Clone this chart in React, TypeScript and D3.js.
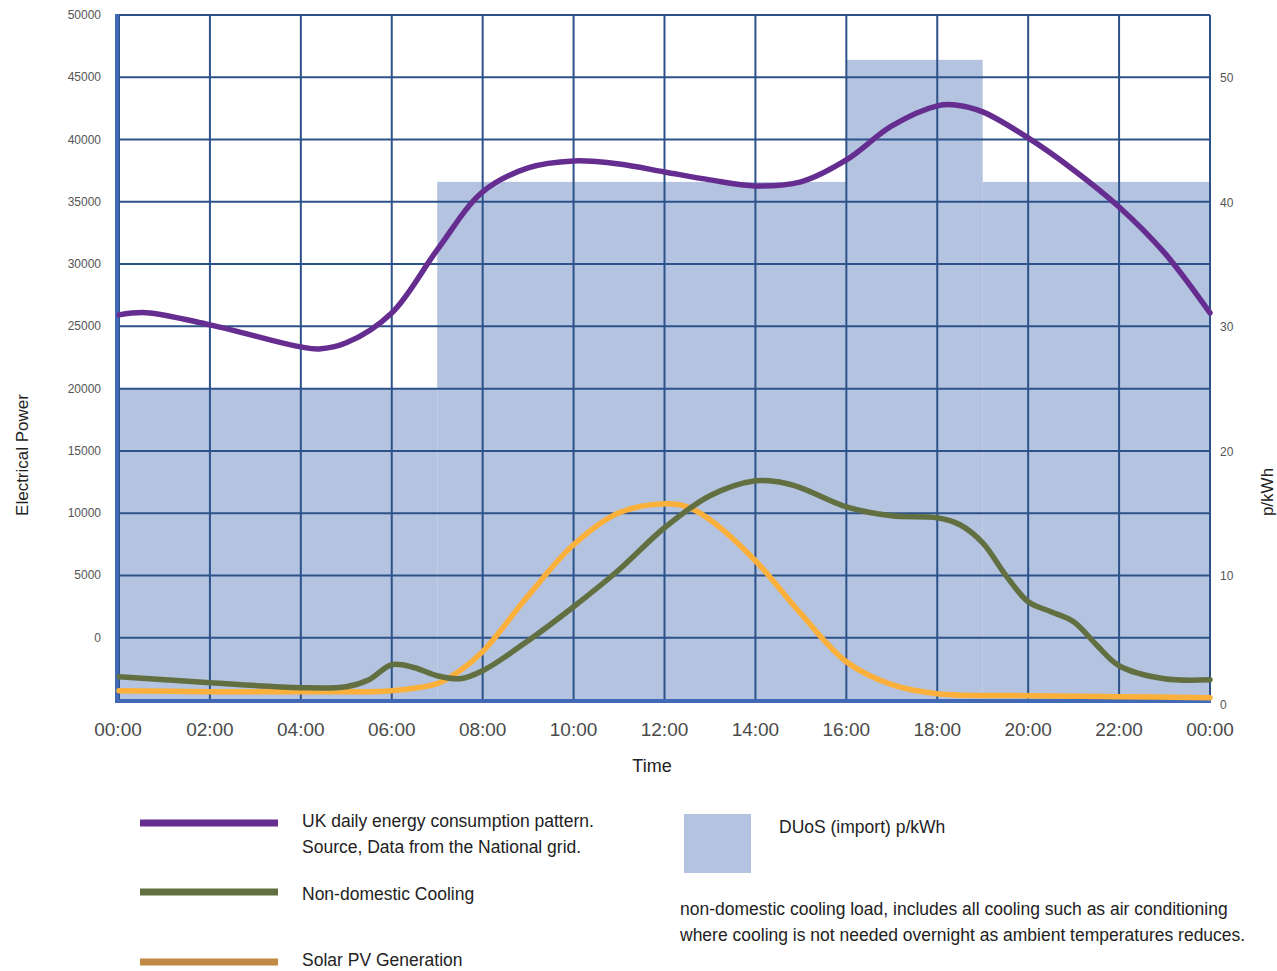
import React from "react";
import * as d3 from "d3";

const hours = [0, 2, 4, 6, 8, 10, 12, 14, 16, 18, 20, 22, 24];
const hourLabels = ["00:00", "02:00", "04:00", "06:00", "08:00", "10:00", "12:00", "14:00", "16:00", "18:00", "20:00", "22:00", "00:00"];
const leftTicks = [0, 5000, 10000, 15000, 20000, 25000, 30000, 35000, 40000, 45000, 50000];
const rightTicks = [0, 10, 20, 30, 40, 50];

// DUoS tariff bands: [start hour, end hour, p/kWh]
const duosStart = [0, 7, 16, 19];
const duosEnd = [7, 16, 19, 24];
const duosValue = [25, 41.6, 51.4, 41.6];

// UK daily consumption
const ukHours = [0, 0.6, 2, 4, 4.4, 5, 6, 7, 8, 9, 10, 11, 12, 13, 14, 15, 16, 17, 18, 18.4, 19, 20, 21, 22, 23, 24];
const ukValues = [25920, 26100, 25120, 23350, 23190, 23680, 26080, 31140, 35800, 37720, 38280, 38040, 37400, 36760, 36280, 36600, 38360, 41090, 42700, 42780, 42220, 40130, 37560, 34590, 30900, 26080];

// Non-domestic cooling
const coolHours = [0, 2, 4, 5, 5.5, 6, 6.5, 7, 7.5, 8, 9, 10, 11, 12, 13, 14, 14.5, 15, 16, 17, 18, 18.5, 19, 19.5, 20, 20.5, 21, 21.5, 22, 23, 24];
const coolValues = [-3130, -3610, -4010, -3930, -3370, -2170, -2410, -3050, -3290, -2650, -240, 2490, 5460, 8830, 11400, 12600, 12520, 12040, 10510, 9790, 9630, 9070, 7620, 5050, 2890, 2090, 1280, -560, -2250, -3290, -3370];

// Solar PV
const solarHours = [0, 2, 4, 6, 7, 7.5, 8, 9, 10, 11, 12, 12.5, 13, 14, 15, 16, 17, 18, 20, 22, 24];
const solarValues = [-4250, -4330, -4330, -4250, -3690, -2650, -1120, 3370, 7460, 10030, 10750, 10510, 9470, 6180, 1930, -1930, -3770, -4490, -4650, -4730, -4820];

const legendLabels = [
  ["UK daily energy consumption pattern.", "Source, Data from the National grid."],
  ["Non-domestic Cooling"],
  ["Solar PV Generation"],
];

const W = 1277;
const H = 971;
const L = 119, R = 1210, T = 15, B = 700;

export default function App() {
  const x = d3.scaleLinear().domain([0, 24]).range([L, R]);
  const yL = d3.scaleLinear().domain([-5000, 50000]).range([B, T]);
  const yR = d3.scaleLinear().domain([0, 55]).range([B, T]);

  const mk = (hs: number[], vs: number[]) =>
    d3.line<number>().x((_, i) => x(hs[i])).y((v) => yL(v)).curve(d3.curveCatmullRom.alpha(0.5))(vs) || "";

  const gridColor = "#2d5289";
  const font = "'Liberation Sans', Arial, sans-serif";
  const hGrid = d3.range(-5000, 50001, 5000);
  const fs = 17.5;

  return (
    <svg width={W} height={H} style={{ position: "absolute", left: 0, top: 0, fontFamily: font }}>
      <rect x={0} y={0} width={W} height={H} fill="#fff" />
      {duosStart.map((s, i) => (
        <rect key={i} x={x(s)} y={yR(duosValue[i])} width={x(duosEnd[i]) - x(s)} height={B - yR(duosValue[i])} fill="#b3c3e0" />
      ))}
      {hGrid.map((v) => (
        <line key={"h" + v} x1={117} x2={R} y1={yL(v)} y2={yL(v)} stroke={gridColor} strokeWidth={2} />
      ))}
      {hours.map((h) => (
        <line key={"v" + h} x1={x(h)} x2={x(h)} y1={T} y2={B} stroke={gridColor} strokeWidth={2} />
      ))}
      <line x1={117} x2={117} y1={T - 1} y2={B + 2} stroke="#4169b5" strokeWidth={4} />
      <line x1={115} x2={R + 1} y1={B + 1} y2={B + 1} stroke="#4169b5" strokeWidth={4} />
      <path d={mk(solarHours, solarValues)} fill="none" stroke="#fbb03b" strokeWidth={5.5} strokeLinecap="round" />
      <path d={mk(coolHours, coolValues)} fill="none" stroke="#627041" strokeWidth={5.5} strokeLinecap="round" />
      <path d={mk(ukHours, ukValues)} fill="none" stroke="#662d91" strokeWidth={5.5} strokeLinecap="round" />

      {leftTicks.map((v) => (
        <text key={"l" + v} x={101} y={yL(v) + 4} textAnchor="end" fontSize={12} fill="#555">{v}</text>
      ))}
      {rightTicks.map((v) => (
        <text key={"r" + v} x={1220} y={yR(v) + (v === 0 ? 9 : 5)} fontSize={12} fill="#555">{v}</text>
      ))}
      {hours.map((h, i) => (
        <text key={"x" + i} x={i === 0 ? 118 : x(h)} y={736} textAnchor="middle" fontSize={19} fill="#4a4a4a">{hourLabels[i]}</text>
      ))}
      <text x={652} y={772} textAnchor="middle" fontSize={18} fill="#222">Time</text>
      <text transform={`translate(28,455) rotate(-90)`} textAnchor="middle" fontSize={17} fill="#222">Electrical Power</text>
      <text transform={`translate(1273,492) rotate(-90)`} textAnchor="middle" fontSize={17} fill="#222">p/kWh</text>

      <line x1={140} x2={278} y1={823} y2={823} stroke="#662d91" strokeWidth={7} />
      <line x1={140} x2={278} y1={892} y2={892} stroke="#627041" strokeWidth={7} />
      <line x1={140} x2={278} y1={962} y2={962} stroke="#c08944" strokeWidth={7} />
      <text x={302} y={827} fontSize={fs} fill="#222">{legendLabels[0][0]}</text>
      <text x={302} y={853} fontSize={fs} fill="#222">{legendLabels[0][1]}</text>
      <text x={302} y={900} fontSize={fs} fill="#222">{legendLabels[1][0]}</text>
      <text x={302} y={966} fontSize={fs} fill="#222">{legendLabels[2][0]}</text>
      <rect x={684} y={814} width={67} height={59} fill="#b3c3e0" />
      <text x={779} y={833} fontSize={fs} fill="#222">DUoS (import) p/kWh</text>
      <text x={680} y={915} fontSize={fs} fill="#222">non-domestic cooling load, includes all cooling such as air conditioning</text>
      <text x={680} y={941} fontSize={fs} fill="#222">where cooling is not needed overnight as ambient temperatures reduces.</text>
    </svg>
  );
}
